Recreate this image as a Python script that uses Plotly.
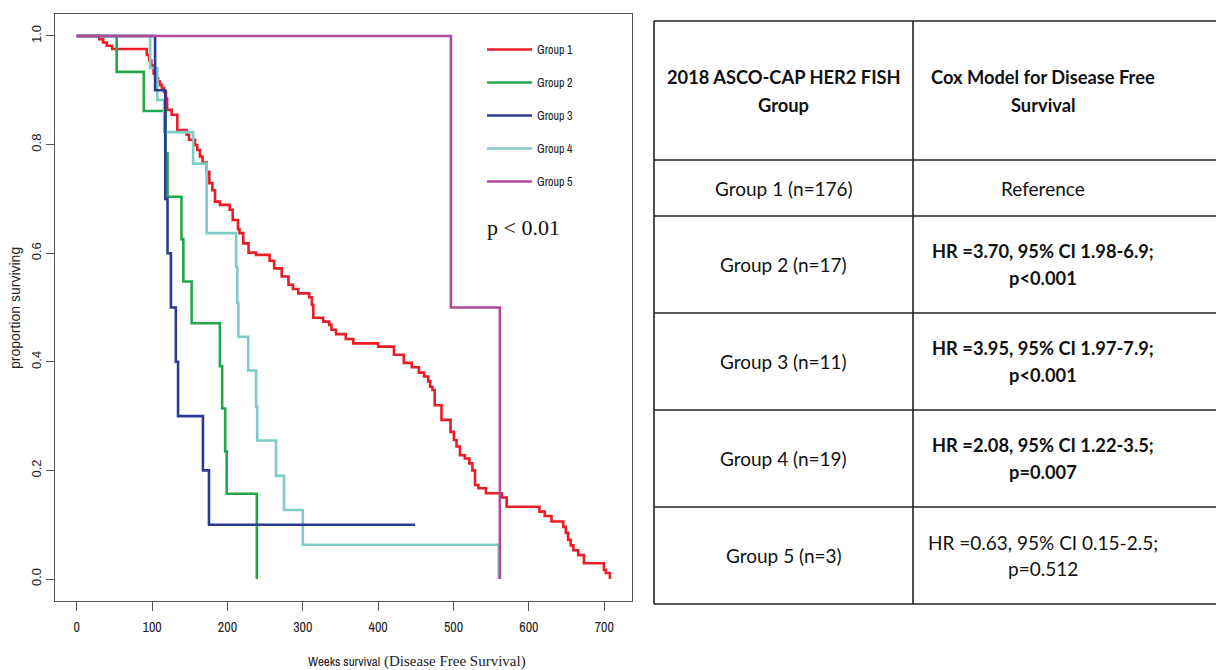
import plotly.graph_objects as go

W, H = 1216, 670

# ---------------- data ----------------
group_names = ["Group 1", "Group 2", "Group 3", "Group 4", "Group 5"]
group_colors = ["#EC1C24", "#22A84A", "#2B3A92", "#7ECCC6", "#B2489C"]

g1_weeks = [0, 30, 35, 40, 47, 93, 96, 99, 102, 104, 108, 110.5, 113, 116, 118.5, 120, 126,
            133.5, 146, 149, 157, 160, 163.5, 167, 172.5, 176, 180, 183.5, 190, 203, 207, 214,
            216, 221, 228, 238, 256, 262, 272, 281, 287, 294, 308.5, 312, 314, 327, 335, 338,
            344, 357, 367, 400, 421, 434, 444.5, 454, 461, 466.5, 469, 472, 475, 484, 496,
            500.5, 504, 508.5, 515, 521, 525, 528.5, 533, 543, 564, 570.5, 614, 621, 630,
            645.5, 649, 652, 655.5, 659, 665.5, 673, 699.5, 702, 707.5]
g1_surv = [1.0, 0.994, 0.988, 0.982, 0.976, 0.965, 0.955, 0.946, 0.931, 0.922, 0.916, 0.910,
           0.904, 0.897, 0.885, 0.864, 0.855, 0.827, 0.818, 0.809, 0.799, 0.790, 0.778, 0.767,
           0.750, 0.729, 0.716, 0.695, 0.689, 0.680, 0.661, 0.644, 0.637, 0.618, 0.601, 0.597,
           0.586, 0.572, 0.557, 0.542, 0.534, 0.526, 0.519, 0.505, 0.481, 0.474, 0.468, 0.459,
           0.451, 0.442, 0.434, 0.428, 0.413, 0.398, 0.390, 0.380, 0.373, 0.364, 0.354, 0.348,
           0.320, 0.293, 0.271, 0.256, 0.244, 0.228, 0.222, 0.213, 0.200, 0.173, 0.167, 0.158,
           0.150, 0.133, 0.124, 0.116, 0.106, 0.096, 0.085, 0.072, 0.062, 0.053, 0.044, 0.029,
           0.017, 0.011, 0.0]

g2_weeks = [0, 53, 89, 118, 120.5, 139, 141.5, 152.5, 190, 193, 197, 199, 239]
g2_surv = [1.0, 0.934, 0.862, 0.784, 0.704, 0.626, 0.548, 0.471, 0.392, 0.314, 0.235, 0.157, 0.0]

g3_weeks = [0, 104, 117.5, 120.5, 125, 131.5, 134.5, 167.5, 175.5, 449]
g3_surv = [1.0, 0.9, 0.7, 0.6, 0.5, 0.4, 0.3, 0.2, 0.1, 0.1]

g4_weeks = [0, 97.5, 107, 116, 154.5, 172.5, 211.5, 213, 214.5, 227.5, 238, 239.5, 264.5,
            275, 300, 560]
g4_surv = [1.0, 0.941, 0.882, 0.823, 0.765, 0.637, 0.575, 0.509, 0.446, 0.384, 0.318, 0.255,
           0.190, 0.127, 0.063, 0.0]

g5_weeks = [0, 496.5, 561.5]
g5_surv = [1.0, 0.5, 0.0]

x_ticks = [0, 100, 200, 300, 400, 500, 600, 700]
y_ticks = [0.0, 0.2, 0.4, 0.6, 0.8, 1.0]
y_ticktext = ["0.0", "0.2", "0.4", "0.6", "0.8", "1.0"]

table_header = ["2018 ASCO-CAP HER2 FISH<br>Group", "Cox Model for Disease Free<br>Survival"]
table_groups = ["Group 1 (n=176)", "Group 2 (n=17)", "Group 3 (n=11)", "Group 4 (n=19)",
                "Group 5 (n=3)"]
table_cox = ["Reference",
             "HR =3.70, 95% CI 1.98-6.9;<br>p&lt;0.001",
             "HR =3.95, 95% CI 1.97-7.9;<br>p&lt;0.001",
             "HR =2.08, 95% CI 1.22-3.5;<br>p=0.007",
             "HR =0.63, 95% CI 0.15-2.5;<br>p=0.512"]
table_cox_bold = [False, True, True, True, False]

p_text = "p &lt; 0.01"

# ---------------- helpers ----------------
def xp(px):
    return px / W

def yp(py):
    return 1 - py / H

NARROW = "Archivo Narrow, Liberation Sans Narrow, Arial Narrow, sans-serif"
SANS = "Liberation Sans, Arial, sans-serif"
SERIF = "Liberation Serif, Times New Roman, serif"
TABLE_FONT = "Lato, Carlito, Calibri, Open Sans, sans-serif"

fig = go.Figure()

series = [
    (g1_weeks, g1_surv, 0, 1),
    (g2_weeks, g2_surv, 1, 2),
    (g4_weeks, g4_surv, 3, 4),
    (g3_weeks, g3_surv, 2, 3),
    (g5_weeks, g5_surv, 4, 5),
]
for xs, ys, idx, rank in series:
    fig.add_trace(go.Scatter(
        x=xs, y=ys, mode="lines", line=dict(shape="hv", color=group_colors[idx], width=2.6),
        name=group_names[idx], legendgroup=group_names[idx], legendrank=rank,
        hoverinfo="x+y+name"))

fig.update_layout(
    width=W, height=H, margin=dict(l=0, r=0, t=0, b=0),
    paper_bgcolor="white", plot_bgcolor="white",
    showlegend=True,
    legend=dict(x=xp(482), y=yp(35), xanchor="left", yanchor="top",
                bgcolor="rgba(0,0,0,0)", borderwidth=0, tracegroupgap=14, itemwidth=45,
                font=dict(family=NARROW, size=12, color="#222")),
    xaxis=dict(domain=[xp(55), xp(632)], range=[-28.8, 736.8], tickvals=x_ticks,
               ticks="outside", ticklen=9, tickwidth=1, tickcolor="#555",
               showline=True, linecolor="#555", linewidth=1.3, mirror=True,
               showgrid=False, zeroline=False, ticklabelstandoff=4,
               tickfont=dict(family=NARROW, size=14, color="#222")),
    yaxis=dict(domain=[yp(601), yp(14)], range=[-0.0405, 1.0405], tickvals=y_ticks,
               ticktext=y_ticktext, tickangle=-90,
               ticks="outside", ticklen=8, tickwidth=1, tickcolor="#555",
               showline=True, linecolor="#555", linewidth=1.3, mirror=True,
               showgrid=False, zeroline=False,
               tickfont=dict(family=SANS, size=13, color="#222")),
)

def ann(x, y, text, font, **kw):
    d = dict(x=x, y=y, xref="paper", yref="paper", text=text, showarrow=False,
             xanchor="center", yanchor="middle", font=font)
    d.update(kw)
    return d

annotations = []
# axis titles
annotations.append(ann(xp(15), yp(308), "proportion surviving",
                       dict(family=SANS, size=14, color="#222"), textangle=-90))
annotations.append(ann(xp(344), yp(661), "Weeks survival",
                       dict(family=NARROW, size=13, color="#222")))
annotations.append(ann(xp(455), yp(661), "(Disease Free Survival)",
                       dict(family=SERIF, size=15, color="#222")))
# p-value
annotations.append(dict(x=593, y=0.648, xref="x", yref="y", text=p_text, showarrow=False,
                        xanchor="center", yanchor="middle",
                        font=dict(family=SERIF, size=22, color="#111")))

# ---------------- table ----------------
tbl_left, tbl_mid, tbl_right = 654, 913, 1230
row_lines = [21, 160, 216, 313, 410, 507, 604]
col_centers = [783.5, 1043]
shapes = []
for ry in row_lines:
    shapes.append(dict(type="line", xref="paper", yref="paper", x0=xp(tbl_left), x1=xp(tbl_right),
                       y0=yp(ry), y1=yp(ry), line=dict(color="#222", width=1.6)))
for cx in [tbl_left, tbl_mid]:
    shapes.append(dict(type="line", xref="paper", yref="paper", x0=xp(cx), x1=xp(cx),
                       y0=yp(row_lines[0]), y1=yp(row_lines[-1]), line=dict(color="#222", width=1.6)))

def row_center(i):
    return (row_lines[i] + row_lines[i + 1]) / 2

def cell_text(cx, cy, text, bold, gap):
    lines = text.split("<br>")
    n = len(lines)
    size = 18.3 if bold else 19
    for k, line in enumerate(lines):
        yy = cy + (k - (n - 1) / 2) * gap
        t = "<b>" + line + "</b>" if bold else line
        annotations.append(ann(xp(cx), yp(yy), t, dict(family=TABLE_FONT, size=size, color="#111")))

for j, txt in enumerate(table_header):
    cell_text(col_centers[j], row_center(0) + 0.5, txt, True, 27.7)
for i in range(5):
    cell_text(col_centers[0], row_center(i + 1), table_groups[i], False, 26.5)
    cell_text(col_centers[1], row_center(i + 1), table_cox[i], table_cox_bold[i], 26.5)

fig.update_layout(annotations=annotations, shapes=shapes)
fig.write_html("out.html")
